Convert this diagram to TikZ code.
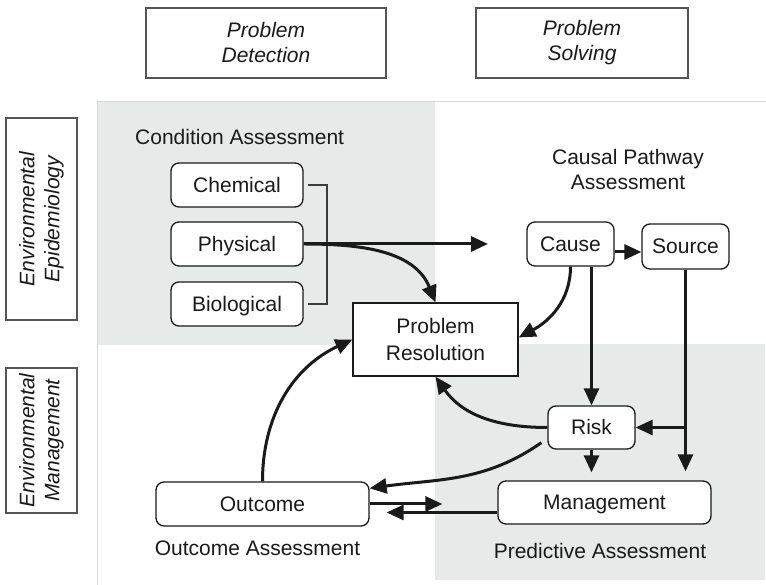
\documentclass[tikz,border=0pt]{standalone}
\usepackage{fontspec}
\setmainfont{Liberation Sans}
\usetikzlibrary{arrows.meta,calc}
\definecolor{bggray}{HTML}{E8E9E9}
\definecolor{bgline}{HTML}{D6D7D7}
\definecolor{hdrline}{HTML}{555555}
\definecolor{ink}{HTML}{1A1A1A}
\begin{document}
\begin{tikzpicture}[x=1pt,y=1pt, font=\fontsize{21}{25}\selectfont, text=ink,
  rbox/.style={draw=ink, line width=1.3pt, rounded corners=8pt, fill=white, inner sep=0pt, text height=15pt, text depth=0pt},
  sbox/.style={draw=ink, line width=1.3pt, fill=white, inner sep=0pt, align=center, font=\fontsize{21}{27}\selectfont},
  hdr/.style={draw=hdrline, line width=1.1pt, fill=white, inner sep=0pt, align=center, font=\fontsize{21}{25}\selectfont\itshape},
  arr/.style={draw=ink, line width=3pt, -{Triangle[length=17pt,width=15pt]}},
  brk/.style={draw=ink!85, line width=1.2pt},
  lbl/.style={align=center, inner sep=0pt},
]
\useasboundingbox (0,0) rectangle (766,585);
\fill[white] (0,0) rectangle (766,585);
% background panels
\fill[bggray] (97,483) rectangle (435,240);
\fill[bggray] (435,241) rectangle (765,5);
\draw[bgline, line width=1pt] (97,0) -- (97,483) -- (766,483);

% header boxes
\node[hdr, minimum width=240pt, minimum height=70pt] (pd) at (266,542) {Problem\\Detection};
\node[hdr, minimum width=212pt, minimum height=70pt] (ps) at (582,542) {Problem\\Solving};
\node[hdr, rotate=90, minimum width=202pt, minimum height=71pt] (epi) at (41.5,366) {Environmental\\Epidemiology};
\node[hdr, rotate=90, minimum width=145pt, minimum height=71pt] (emg) at (41.5,144.5) {Environmental\\Management};

% section labels
\node[lbl, anchor=west] (lca) at (135,448) {Condition Assessment};
\node[lbl] (lcp) at (628,415) {Causal Pathway\\Assessment};
\node[lbl] (loa) at (257.5,37) {Outcome Assessment};
\node[lbl] (lpa) at (600,34) {Predictive Assessment};

% nodes
\node[rbox, minimum width=132pt, minimum height=44pt] (chem) at (237,400) {Chemical};
\node[rbox, minimum width=132pt, minimum height=44pt] (phys) at (237,341) {Physical};
\node[rbox, minimum width=132pt, minimum height=44pt] (bio) at (237,281) {Biological};
\node[sbox, minimum width=165pt, minimum height=73pt] (pr) at (435.5,245.5) {Problem\\Resolution};
\node[rbox, minimum width=87pt, minimum height=44pt] (cause) at (570.5,341) {Cause};
\node[rbox, minimum width=87pt, minimum height=45pt] (src) at (685.5,338.5) {Source};
\node[rbox, minimum width=87pt, minimum height=43pt] (risk) at (591.5,157.5) {Risk};
\node[rbox, minimum width=213pt, minimum height=43pt] (mgmt) at (604.5,82.5) {Management};
\node[rbox, minimum width=213pt, minimum height=44pt] (outc) at (262.5,81) {Outcome};

% bracket
\coordinate (bk) at (327,0);
\draw[brk] ([xshift=4pt]chem.east) -- (chem.east -| bk) -- (bio.east -| bk) -- ([xshift=4pt]bio.east);

% connectors
\coordinate (hend) at (488,341);
\draw[arr] (phys.east) -- (hend);
\draw[arr] (phys.east) to[out=0,in=112] (pr.north);
\draw[arr] ([yshift=-8pt]cause.east) -- ([yshift=-8pt]cause.east -| src.west);
\draw[arr] (cause.south) to[out=-90,in=28] ([yshift=2pt]pr.east);
\draw[arr] (risk.north |- cause.south) -- (risk.north);
\draw[arr, shorten >=9pt] (src.south) -- (src.south |- mgmt.north);
\draw[arr] (src.south |- risk.east) -- (risk.east);
\draw[arr, shorten >=8pt] (risk.south) -- (risk.south |- mgmt.north);
\draw[arr] (risk.west) to[out=180,in=-55] (pr.south);
\draw[arr] ([xshift=-6pt,yshift=7pt]risk.south west) to[out=-145,in=8] ([yshift=-7pt]outc.north east);
\draw[arr] (outc.north) to[out=90,in=205] (pr.west);
\draw[arr, shorten >=55pt] (outc.east) -- (outc.east -| mgmt.west);
\draw[arr, shorten >=17pt] ([yshift=-10pt]mgmt.west) -- ([yshift=-10pt]mgmt.west -| outc.east);
\end{tikzpicture}
\end{document}
